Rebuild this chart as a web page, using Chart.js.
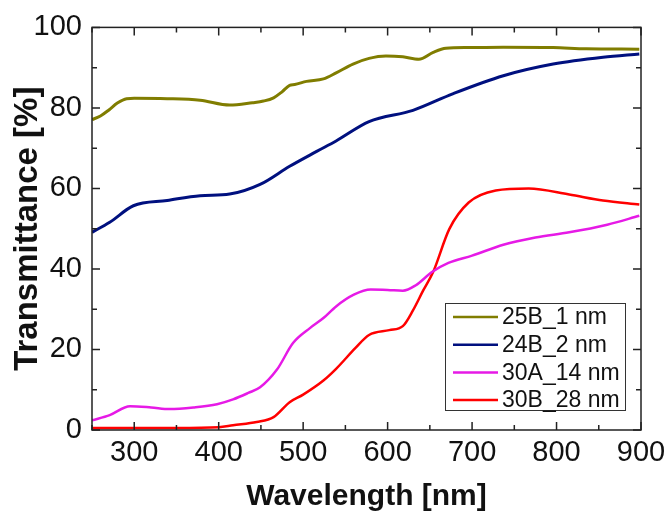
<!DOCTYPE html>
<html>
<head>
<meta charset="utf-8">
<script src="https://cdn.jsdelivr.net/npm/chart.js@4.4.1/dist/chart.umd.min.js"></script>
<style>
  html, body { margin: 0; padding: 0; background: #fff; }
  #chart { display: block; }
</style>
</head>
<body>
<canvas id="chart" width="672" height="524"></canvas>
<script>
// (wavelength in nm, transmittance in %)
const labels = ['25B_1 nm', '24B_2 nm', '30A_14 nm', '30B_28 nm'];
const colors = ['#807d00', '#00107f', '#e61ae6', '#ff0000'];

const wl25B = [250, 260, 270, 280, 291, 300, 339, 378, 413, 440, 453, 465, 475, 484, 490, 504, 524, 539, 559, 578, 598, 618, 637, 654, 669, 696, 737, 796, 835, 898];
const t25B = [77.1, 78, 79.5, 81.2, 82.3, 82.4, 82.3, 81.9, 80.7, 81.3, 81.7, 82.5, 84, 85.6, 85.8, 86.6, 87.2, 88.7, 90.9, 92.3, 92.9, 92.7, 92.1, 93.8, 94.8, 95.0, 95.1, 95.0, 94.7, 94.6];

const wl24B = [250, 271, 299, 339, 378, 413, 449, 484, 516, 539, 578, 630, 677, 737, 796, 855, 898];
const t24B = [49.1, 51.6, 55.7, 57.0, 58.2, 58.6, 61, 65.5, 69.2, 71.8, 76.6, 79.4, 83.5, 88, 90.9, 92.6, 93.4];

const wl30A = [250, 271, 295, 320, 342, 370, 398, 417, 435, 449, 469, 488, 508, 524, 539, 560, 580, 600, 618, 633, 653, 672, 700, 737, 775, 815, 860, 898];
const t30A = [2.4, 3.7, 5.9, 5.6, 5.2, 5.6, 6.4, 7.6, 9.2, 10.6, 15, 21.6, 25.3, 27.8, 30.7, 33.6, 34.9, 34.8, 34.6, 35.9, 39.3, 41.5, 43.3, 46.0, 47.8, 49.1, 51.0, 53.2];

const wl30B = [250, 300, 350, 400, 417, 445, 465, 484, 500, 524, 539, 562, 578, 602, 618, 630, 642, 654, 673, 696, 728, 767, 815, 855, 898];
const t30B = [0.5, 0.5, 0.5, 0.7, 1.2, 2.0, 3.2, 6.9, 8.8, 12.3, 15.2, 20.4, 23.6, 24.8, 25.8, 29.7, 34.6, 39.3, 49.9, 56.5, 59.5, 60.0, 58.5, 57.0, 56.0];

const xTicks = [300, 400, 500, 600, 700, 800, 900];
const yTicks = [0, 20, 40, 60, 80, 100];

const FONT = "'Liberation Sans', Arial, sans-serif";

function points(xs, ys) {
    return xs.map((x, i) => ({ x: x, y: ys[i] }));
}

const series = [[wl25B, t25B], [wl24B, t24B], [wl30A, t30A], [wl30B, t30B]];

// frame with inward ticks on all four sides
const framePlugin = {
    id: 'frame',
    afterDraw(chart) {
        const ctx = chart.ctx;
        const a = chart.chartArea;
        const xs = chart.scales.x, ys = chart.scales.y;
        ctx.save();
        ctx.strokeStyle = '#222';
        ctx.lineWidth = 1.5;
        ctx.strokeRect(a.left, a.top, a.right - a.left, a.bottom - a.top);
        ctx.beginPath();
        for (let v = 250; v <= 900; v += 50) {
            const px = xs.getPixelForValue(v);
            const len = v % 100 === 0 ? 8 : 5;
            ctx.moveTo(px, a.bottom); ctx.lineTo(px, a.bottom - len);
            ctx.moveTo(px, a.top); ctx.lineTo(px, a.top + len);
        }
        for (let v = 0; v <= 100; v += 10) {
            const py = ys.getPixelForValue(v);
            const len = v % 20 === 0 ? 8 : 5;
            ctx.moveTo(a.left, py); ctx.lineTo(a.left + len, py);
            ctx.moveTo(a.right, py); ctx.lineTo(a.right - len, py);
        }
        ctx.stroke();
        ctx.restore();
    }
};

// boxed legend in the lower right of the plot
const legendPlugin = {
    id: 'boxLegend',
    afterDraw(chart) {
        const ctx = chart.ctx;
        const boxL = 445, boxT = 303, boxW = 180, boxH = 107;
        ctx.save();
        ctx.fillStyle = '#fff';
        ctx.fillRect(boxL, boxT, boxW, boxH);
        ctx.strokeStyle = '#333';
        ctx.lineWidth = 1;
        ctx.strokeRect(boxL + 0.5, boxT + 0.5, boxW, boxH);
        ctx.font = '23px ' + FONT;
        ctx.textBaseline = 'middle';
        ctx.fillStyle = '#111';
        chart.data.datasets.forEach((ds, i) => {
            const y = boxT + 14 + i * 27.7;
            ctx.strokeStyle = ds.borderColor;
            ctx.lineWidth = 2.5;
            ctx.beginPath();
            ctx.moveTo(boxL + 8, y);
            ctx.lineTo(boxL + 53, y);
            ctx.stroke();
            ctx.fillText(ds.label, boxL + 57, y + 1);
        });
        ctx.restore();
    }
};

new Chart(document.getElementById('chart'), {
    type: 'line',
    data: {
        datasets: series.map((s, i) => ({
            label: labels[i],
            data: points(s[0], s[1]),
            borderColor: colors[i],
            backgroundColor: colors[i],
            borderWidth: i < 2 ? 3 : 2.5,
            pointRadius: 0,
            cubicInterpolationMode: 'monotone',
            fill: false
        }))
    },
    options: {
        responsive: false,
        animation: false,
        layout: { padding: { left: 4, right: 31, top: 23, bottom: 5 } },
        plugins: {
            legend: { display: false },
            tooltip: { enabled: false }
        },
        scales: {
            x: {
                type: 'linear',
                min: 250,
                max: 900,
                grid: { display: false, drawTicks: false, tickLength: 0 },
                border: { display: false },
                afterBuildTicks: scale => { scale.ticks = xTicks.map(v => ({ value: v })); },
                afterFit: scale => { scale.height = 89; },
                ticks: { color: '#111', font: { family: FONT, size: 29 }, padding: 6, maxRotation: 0 },
                title: {
                    display: true,
                    text: 'Wavelength [nm]',
                    color: '#111',
                    font: { family: FONT, size: 30, weight: 'bold' }
                }
            },
            y: {
                min: 0,
                max: 100,
                grid: { display: false, drawTicks: false, tickLength: 0 },
                border: { display: false },
                afterBuildTicks: scale => { scale.ticks = yTicks.map(v => ({ value: v })); },
                afterFit: scale => { scale.width = 88; },
                ticks: { color: '#111', font: { family: FONT, size: 29 }, padding: 10 },
                title: {
                    display: true,
                    text: 'Transmittance [%]',
                    color: '#111',
                    font: { family: FONT, size: 33, weight: 'bold' }
                }
            }
        }
    },
    plugins: [framePlugin, legendPlugin]
});
</script>
</body>
</html>
